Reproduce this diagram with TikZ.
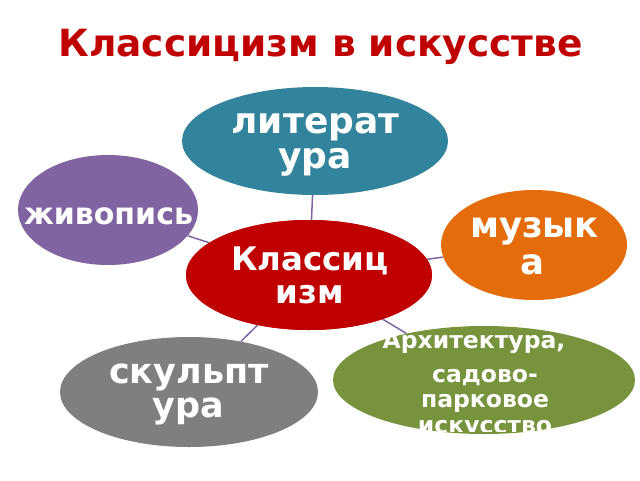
\documentclass[tikz,border=0pt]{standalone}
\usepackage{fontspec}
\setmainfont{DejaVu Sans}
\usetikzlibrary{shapes.geometric}
\definecolor{titlered}{HTML}{C00000}
\definecolor{cteal}{HTML}{31849B}
\definecolor{cpurple}{HTML}{8064A2}
\definecolor{corange}{HTML}{E46C0A}
\definecolor{cred}{HTML}{C00000}
\definecolor{cgray}{HTML}{7F7F7F}
\definecolor{cgreen}{HTML}{77933C}
\tikzset{
  bubble/.style={ellipse, inner sep=0pt},
  link/.style={draw=cpurple, line width=1.5pt},
  wtext/.style={text=white, inner sep=0pt, anchor=base, font=\fontsize{#1}{#1}\selectfont\bfseries},
}
\begin{document}
\begin{tikzpicture}[x=1pt,y=-1pt]
\useasboundingbox (0,0) rectangle (640,480);
\node[text=titlered, inner sep=0pt, anchor=base, font=\fontsize{37.5}{40}\selectfont\bfseries] (title) at (320.5,56) {Классицизм в искусстве};
\node[bubble, fill=cteal, minimum width=266, minimum height=108] (lit) at (315,141) {};
\node[bubble, fill=cpurple, minimum width=180, minimum height=110] (zhiv) at (108,210) {};
\node[bubble, fill=corange, minimum width=186, minimum height=110] (muz) at (534,245) {};
\node[bubble, fill=cred, minimum width=246, minimum height=110] (klass) at (309,275) {};
\node[bubble, fill=cgray, minimum width=258, minimum height=110] (skul) at (189,392) {};
\node[bubble, fill=cgreen, minimum width=302, minimum height=108] (arch) at (484,380) {};
\draw[link] (lit) -- (klass);
\draw[link] (zhiv) -- (klass);
\draw[link] (muz) -- (klass);
\draw[link] (skul) -- (klass);
\draw[link] (arch) -- (klass);
\node[bubble, fill=cred, minimum width=246, minimum height=110] (klassfg) at (309,275) {};
\node[wtext=36] (lit1) at (315.5,133) {литерат};
\node[wtext=36] (lit2) at (315,168) {ура};
\node[wtext=30] (zhiv1) at (108.5,224) {живопись};
\node[wtext=35.5] (muz1) at (534.5,237) {музык};
\node[wtext=35.5] (muz2) at (532,274) {а};
\node[wtext=32.5] (kl1) at (310,270) {Классиц};
\node[wtext=32.5] (kl2) at (310,303) {изм};
\node[wtext=35] (sk1) at (189,383) {скульпт};
\node[wtext=35] (sk2) at (188,417) {ура};
\begin{scope}
\clip (330,335) rectangle (640,431);
\node[wtext=23.5] (ar1) at (474,348) {Архитектура,};
\node[wtext=23.5] (ar2) at (485,382) {садово-};
\node[wtext=23.5] (ar3) at (485,407) {парковое};
\node[wtext=23.5] (ar4) at (485,433) {искусство};
\end{scope}
\end{tikzpicture}
\end{document}
